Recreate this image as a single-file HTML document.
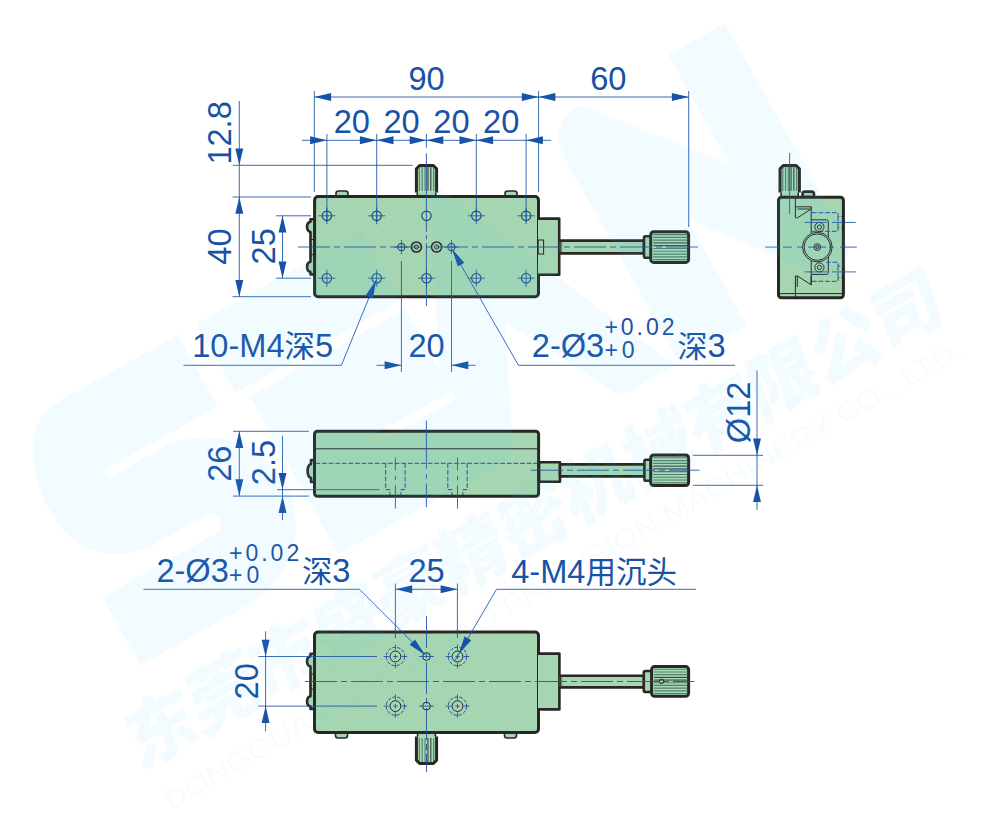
<!DOCTYPE html>
<html lang="zh-CN">
<head>
<meta charset="utf-8">
<title>外形尺寸图</title>
<style>
html,body{margin:0;padding:0;background:#fff;}
body{width:1000px;height:838px;overflow:hidden;}
svg{display:block;}
text{font-family:"Liberation Sans", "Noto Sans CJK SC", sans-serif;fill:#1752a6;}
.b{stroke:#1752a6;stroke-width:0.85;fill:none;}
.ah{fill:#1752a6;stroke:none;}
.cl{stroke:#1752a6;stroke-width:0.85;fill:none;stroke-dasharray:32 4 6 4;}
.cl2{stroke:#1752a6;stroke-width:0.85;fill:none;stroke-dasharray:11 3 3 3;}
.h{stroke:#1e3f72;stroke-width:1.05;fill:none;}
.hd{stroke:#2a2624;stroke-width:1;fill:none;}
.hd2{stroke:#2a2624;stroke-width:1.5;fill:none;}
.body{fill:#a5d6b1;stroke:#2a2624;stroke-width:3;}
.part{fill:#a5d6b1;stroke:#2a2624;stroke-width:2.6;stroke-linejoin:round;}
.partl{fill:#a5d6b1;stroke:#2a2624;stroke-width:1.6;stroke-linejoin:round;}
.knob{fill:#a9dcba;stroke:#2a2624;stroke-width:3;stroke-linejoin:round;}
.knobf{fill:#a9dcba;stroke:none;}
.knobo{fill:none;stroke:#2a2624;stroke-width:3;stroke-linejoin:round;}
.kr{stroke:#557d66;stroke-width:1.15;fill:none;}
.krb{stroke:#1d1d1b;stroke-width:0.9;fill:none;}
.thin{stroke:#2a2624;stroke-width:1;fill:none;}
.thin2{stroke:#4b5a50;stroke-width:0.7;fill:none;}
.thinf{stroke:#2a2624;stroke-width:1;fill:#a5d6b1;}
.dash{stroke:#1752a6;stroke-width:1;fill:none;stroke-dasharray:4.7 1.9;}
.dashc{stroke:#1752a6;stroke-width:1;fill:none;stroke-dasharray:3.4 1.6;}
.wm{opacity:0.072;}
.wl{fill:#43c0f2;stroke:none;fill-rule:evenodd;}
.wt{fill:#43c0f2;}
.we{fill:#43c0f2;stroke:none;opacity:0.7;}
</style>
</head>
<body>
<svg width="1000" height="838" viewBox="0 0 1000 838">
<path class="part" d="M314.5 219.3 L310.5 219.3 L310.5 221.7 C305.9 222.5 305.9 230.9 310.5 231.9 L310.5 261.8 C305.9 262.8 305.9 271.2 310.5 272 L310.5 274.4 L314.5 274.4 Z"/>
<line class="thin" x1="310.5" y1="239.5" x2="314" y2="239.5"/>
<line class="thin" x1="310.5" y1="254.7" x2="314" y2="254.7"/>
<rect class="partl" x="417.3" y="189" width="18.4" height="9"/>
<path class="knobf" d="M416.4 192.4 L416.4 168.7 L419.6 165.5 L433.4 165.5 L436.6 168.7 L436.6 192.4 Z"/>
<line class="kr" x1="419.29" y1="167" x2="419.29" y2="190.9"/>
<line class="kr" x1="422.17" y1="167" x2="422.17" y2="190.9"/>
<line class="kr" x1="425.06" y1="167" x2="425.06" y2="190.9"/>
<line class="krb" x1="427.94" y1="167" x2="427.94" y2="190.9"/>
<line class="krb" x1="430.83" y1="167" x2="430.83" y2="190.9"/>
<line class="kr" x1="433.71" y1="167" x2="433.71" y2="190.9"/>
<path class="knobo" d="M416.4 192.4 L416.4 168.7 L419.6 165.5 L433.4 165.5 L436.6 168.7 L436.6 192.4"/>
<path class="partl" d="M336 197 L336 193.5 Q336 191 338.5 191 L345.5 191 Q348 191 348 193.5 L348 197 Z"/>
<path class="partl" d="M505 197 L505 193.5 Q505 191 507.5 191 L514.5 191 Q517 191 517 193.5 L517 197 Z"/>
<rect class="part" x="559.2" y="240.6" width="84.8" height="12.8"/>
<rect class="part" x="644" y="236.2" width="8" height="21.6" rx="1.5"/>
<rect class="knob" x="650.7" y="231.8" width="37.9" height="30.6" rx="3"/>
<line class="kr" x1="653.2" y1="234.58" x2="687.1" y2="234.58"/>
<line class="kr" x1="653.2" y1="237.36" x2="687.1" y2="237.36"/>
<line class="kr" x1="653.2" y1="240.15" x2="687.1" y2="240.15"/>
<line class="krb" x1="653.2" y1="242.93" x2="687.1" y2="242.93"/>
<line class="krb" x1="653.2" y1="245.71" x2="687.1" y2="245.71"/>
<line class="kr" x1="653.2" y1="248.49" x2="687.1" y2="248.49"/>
<line class="kr" x1="653.2" y1="251.27" x2="687.1" y2="251.27"/>
<line class="kr" x1="653.2" y1="254.05" x2="687.1" y2="254.05"/>
<line class="kr" x1="653.2" y1="256.84" x2="687.1" y2="256.84"/>
<line class="kr" x1="653.2" y1="259.62" x2="687.1" y2="259.62"/>
<rect class="body" x="314.6" y="196.5" width="223.9" height="100.3" rx="3.5"/>
<path class="part" d="M537 218.6 L559.2 218.6 L559.2 274.8 L537 274.8"/>
<line class="thin" x1="537.5" y1="219.5" x2="537.5" y2="274"/>
<rect class="thin" x="538.2" y="240" width="5.4" height="14"/>
<path class="thin2" d="M559.4 241.8 V252.4 M561.6 241.8 V252.4"/>
<circle class="h" cx="326.9" cy="215.8" r="4.7"/>
<line class="b" x1="318.4" y1="215.8" x2="335.4" y2="215.8"/>
<line class="b" x1="326.9" y1="207.3" x2="326.9" y2="224.3"/>
<circle class="h" cx="326.9" cy="278.2" r="4.7"/>
<line class="b" x1="318.4" y1="278.2" x2="335.4" y2="278.2"/>
<line class="b" x1="326.9" y1="269.7" x2="326.9" y2="286.7"/>
<circle class="h" cx="376.7" cy="215.8" r="4.7"/>
<line class="b" x1="368.2" y1="215.8" x2="385.2" y2="215.8"/>
<line class="b" x1="376.7" y1="207.3" x2="376.7" y2="224.3"/>
<circle class="h" cx="376.7" cy="278.2" r="4.7"/>
<line class="b" x1="368.2" y1="278.2" x2="385.2" y2="278.2"/>
<line class="b" x1="376.7" y1="269.7" x2="376.7" y2="286.7"/>
<circle class="h" cx="476.3" cy="215.8" r="4.7"/>
<line class="b" x1="467.8" y1="215.8" x2="484.8" y2="215.8"/>
<line class="b" x1="476.3" y1="207.3" x2="476.3" y2="224.3"/>
<circle class="h" cx="476.3" cy="278.2" r="4.7"/>
<line class="b" x1="467.8" y1="278.2" x2="484.8" y2="278.2"/>
<line class="b" x1="476.3" y1="269.7" x2="476.3" y2="286.7"/>
<circle class="h" cx="526.1" cy="215.8" r="4.7"/>
<line class="b" x1="517.6" y1="215.8" x2="534.6" y2="215.8"/>
<line class="b" x1="526.1" y1="207.3" x2="526.1" y2="224.3"/>
<circle class="h" cx="526.1" cy="278.2" r="4.7"/>
<line class="b" x1="517.6" y1="278.2" x2="534.6" y2="278.2"/>
<line class="b" x1="526.1" y1="269.7" x2="526.1" y2="286.7"/>
<circle class="h" cx="426.5" cy="215.8" r="4.7"/>
<circle class="h" cx="426.5" cy="278.2" r="4.7"/>
<line class="b" x1="418" y1="278.2" x2="435" y2="278.2"/>
<line class="b" x1="426.5" y1="269.7" x2="426.5" y2="286.7"/>
<circle class="h" cx="401.4" cy="247" r="3.6"/>
<line class="b" x1="394.2" y1="247" x2="408.6" y2="247"/>
<line class="b" x1="401.4" y1="239.8" x2="401.4" y2="254.2"/>
<circle class="h" cx="451.4" cy="247" r="3.6"/>
<line class="b" x1="444.2" y1="247" x2="458.6" y2="247"/>
<line class="b" x1="451.4" y1="239.8" x2="451.4" y2="254.2"/>
<circle class="hd2" cx="416.4" cy="247" r="5.1"/>
<circle class="hd" cx="416.4" cy="247" r="2.1"/>
<circle class="hd2" cx="436.6" cy="247" r="5.1"/>
<circle class="hd" cx="436.6" cy="247" r="2.1"/>
<line class="cl" x1="298" y1="247" x2="699.5" y2="247"/>
<path class="b" d="M426.4 134 V147.7 M426.4 153.3 V231.6 M426.4 235 V239.5 M426.4 243 V306"/>
<line class="b" x1="314.3" y1="91" x2="314.3" y2="192"/>
<line class="b" x1="538.6" y1="91" x2="538.6" y2="192"/>
<line class="b" x1="688.7" y1="91" x2="688.7" y2="227"/>
<line class="b" x1="314.3" y1="97" x2="688.7" y2="97"/>
<polygon class="ah" points="314.3,97 331.1,93.05 331.1,100.95"/>
<polygon class="ah" points="538.6,97 521.8,100.95 521.8,93.05"/>
<polygon class="ah" points="538.6,97 555.4,93.05 555.4,100.95"/>
<polygon class="ah" points="688.7,97 671.9,100.95 671.9,93.05"/>
<text x="426.5" y="89.6" font-size="32.6" text-anchor="middle">90</text>
<text x="608.3" y="89.6" font-size="32.6" text-anchor="middle">60</text>
<line class="b" x1="301.8" y1="140.3" x2="551.2" y2="140.3"/>
<line class="b" x1="326.9" y1="134" x2="326.9" y2="222"/>
<line class="b" x1="376.7" y1="134" x2="376.7" y2="222"/>
<line class="b" x1="476.3" y1="134" x2="476.3" y2="222"/>
<line class="b" x1="526.1" y1="134" x2="526.1" y2="222"/>
<polygon class="ah" points="326.9,140.3 310.1,144.25 310.1,136.35"/>
<polygon class="ah" points="526.1,140.3 542.9,136.35 542.9,144.25"/>
<polygon class="ah" points="376.7,140.3 359.9,144.25 359.9,136.35"/>
<text x="351.8" y="133.2" font-size="32.6" text-anchor="middle">20</text>
<polygon class="ah" points="376.7,140.3 393.5,136.35 393.5,144.25"/>
<polygon class="ah" points="426.5,140.3 409.7,144.25 409.7,136.35"/>
<text x="401.6" y="133.2" font-size="32.6" text-anchor="middle">20</text>
<polygon class="ah" points="426.5,140.3 443.3,136.35 443.3,144.25"/>
<polygon class="ah" points="476.3,140.3 459.5,144.25 459.5,136.35"/>
<text x="451.4" y="133.2" font-size="32.6" text-anchor="middle">20</text>
<polygon class="ah" points="476.3,140.3 493.1,136.35 493.1,144.25"/>
<text x="501.2" y="133.2" font-size="32.6" text-anchor="middle">20</text>
<line class="b" x1="233" y1="165.3" x2="412.5" y2="165.3"/>
<line class="b" x1="232.5" y1="197" x2="311" y2="197"/>
<line class="b" x1="232.5" y1="296.7" x2="311" y2="296.7"/>
<line class="b" x1="239.3" y1="101" x2="239.3" y2="296.7"/>
<polygon class="ah" points="239.3,165.3 235.35,148.5 243.25,148.5"/>
<polygon class="ah" points="239.3,197 243.25,213.8 235.35,213.8"/>
<polygon class="ah" points="239.3,296.7 235.35,279.9 243.25,279.9"/>
<text x="230.9" y="132.9" font-size="32.6" text-anchor="middle" transform="rotate(-90 230.9 132.9)">12.8</text>
<text x="231.2" y="246.6" font-size="32.6" text-anchor="middle" transform="rotate(-90 231.2 246.6)">40</text>
<line class="b" x1="276" y1="215.8" x2="311" y2="215.8"/>
<line class="b" x1="276" y1="278.2" x2="311" y2="278.2"/>
<line class="b" x1="282.5" y1="215.8" x2="282.5" y2="278.2"/>
<polygon class="ah" points="282.5,215.8 286.45,232.6 278.55,232.6"/>
<polygon class="ah" points="282.5,278.2 278.55,261.4 286.45,261.4"/>
<text x="275" y="246.3" font-size="32.6" text-anchor="middle" transform="rotate(-90 275 246.3)">25</text>
<line class="b" x1="183.5" y1="365.3" x2="341.4" y2="365.3"/>
<line class="b" x1="341.4" y1="365.3" x2="376" y2="280.5"/>
<polygon class="ah" points="376.3,279.8 373.02,297.9 365.98,295.03"/>
<text x="192.2" y="357.3" font-size="32.6" text-anchor="start">10-M4<tspan font-size="30.5">深</tspan>5</text>
<line class="b" x1="401.4" y1="261" x2="401.4" y2="372"/>
<line class="b" x1="451.5" y1="261" x2="451.5" y2="372"/>
<line class="b" x1="376.5" y1="365.3" x2="401.4" y2="365.3"/>
<line class="b" x1="451.5" y1="365.3" x2="475.5" y2="365.3"/>
<polygon class="ah" points="401.4,365.3 384.6,369.25 384.6,361.35"/>
<polygon class="ah" points="451.5,365.3 468.3,361.35 468.3,369.25"/>
<text x="426.5" y="357.3" font-size="32.6" text-anchor="middle">20</text>
<line class="b" x1="452.6" y1="250.5" x2="518.5" y2="365.3"/>
<line class="b" x1="518.5" y1="365.3" x2="735" y2="365.3"/>
<polygon class="ah" points="452.1,249 464.36,262.72 457.77,266.5"/>
<text x="531.8" y="357.3" font-size="32.6" text-anchor="start">2-Ø3</text>
<text x="604.4" y="335.4" font-size="23" text-anchor="start" letter-spacing="3">+0.02</text>
<text x="604.4" y="358.3" font-size="23" text-anchor="start" letter-spacing="4">+0</text>
<text x="677.6" y="357.3" font-size="32.6" text-anchor="start"><tspan font-size="30">深</tspan>3</text>
<rect class="partl" x="781.2" y="188.5" width="17" height="10"/>
<path class="knobf" d="M780 192.4 L780 168.8 L783.2 165.6 L796.2 165.6 L799.4 168.8 L799.4 192.4 Z"/>
<line class="kr" x1="782.77" y1="167.1" x2="782.77" y2="190.9"/>
<line class="kr" x1="785.54" y1="167.1" x2="785.54" y2="190.9"/>
<line class="kr" x1="788.31" y1="167.1" x2="788.31" y2="190.9"/>
<line class="krb" x1="791.09" y1="167.1" x2="791.09" y2="190.9"/>
<line class="krb" x1="793.86" y1="167.1" x2="793.86" y2="190.9"/>
<line class="kr" x1="796.63" y1="167.1" x2="796.63" y2="190.9"/>
<path class="knobo" d="M780 192.4 L780 168.8 L783.2 165.6 L796.2 165.6 L799.4 168.8 L799.4 192.4"/>
<path class="part" d="M802.5 197 L802.5 194 Q802.5 191.6 805 191.6 L811.5 191.6 Q814 191.6 814 194 L814 197 Z"/>
<rect class="body" x="778.5" y="197.2" width="64.9" height="100.6" rx="3"/>
<line class="thin" x1="795.4" y1="198" x2="795.4" y2="217.8"/>
<line class="thin" x1="795.4" y1="276" x2="795.4" y2="297"/>
<line class="thin" x1="780" y1="293.6" x2="842" y2="293.6"/>
<path class="thin" d="M795.5 206.8 L811.2 206.8 L811.2 209 L797.5 217.8 L795.5 217.8"/>
<path class="thin" d="M797.5 209 L810 209"/>
<path class="thin" d="M795.5 276 L797.5 276 L811.2 284.8 L811.2 276"/>
<line class="thin" x1="797.3" y1="276.5" x2="797.3" y2="287"/>
<line class="thin" x1="811.2" y1="206.8" x2="811.2" y2="284.8"/>
<path class="thin" d="M811.2 219.8 L826.5 219.8 Q828.3 219.8 828.3 221.6 L828.3 272.6 Q828.3 274.4 826.5 274.4 L811.2 274.4"/>
<path class="dash" d="M812 212.7 L838 212.7 L838 216.5 L842.5 216.5 M812 231.3 L838 231.3 L838 227.5 L842.5 227.5 M838 216.5 L838 227.5"/>
<path class="dash" d="M826 262.2 L838 262.2 L838 266 L842.5 266 M812 281.3 L838 281.3 L838 277.5 L842.5 277.5 M838 266 L838 277.5"/>
<circle class="thinf" cx="817.3" cy="247.1" r="14.8"/>
<circle class="thin" cx="817.3" cy="247.1" r="13.2"/>
<circle class="hd" cx="817.3" cy="247.1" r="3.4"/>
<circle class="hd" cx="817.3" cy="247.1" r="1.6"/>
<circle class="hd" cx="819.4" cy="227" r="4.6"/>
<circle class="hd" cx="819.4" cy="227" r="2.1"/>
<circle class="hd" cx="819.4" cy="267.4" r="4.6"/>
<circle class="hd" cx="819.4" cy="267.4" r="2.1"/>
<line class="b" x1="789.6" y1="153" x2="789.6" y2="214"/>
<line class="b" x1="765.3" y1="247.1" x2="779" y2="247.1"/>
<line class="b" x1="783" y1="247.1" x2="792" y2="247.1"/>
<line class="b" x1="797" y1="247.1" x2="803" y2="247.1"/>
<line class="b" x1="808" y1="247.1" x2="826" y2="247.1"/>
<line class="b" x1="829" y1="247.1" x2="834" y2="247.1"/>
<line class="b" x1="840" y1="247.1" x2="856.8" y2="247.1"/>
<line class="b" x1="804.5" y1="222.4" x2="827.4" y2="222.4"/>
<line class="b" x1="832" y1="222.4" x2="855.7" y2="222.4"/>
<line class="b" x1="804.5" y1="271.9" x2="827.4" y2="271.9"/>
<line class="b" x1="832" y1="271.9" x2="855.7" y2="271.9"/>
<path class="part" d="M314.5 460 L311 460 L311 464 Q307.6 465 307.6 471 Q307.6 477 311 478 L311 482 L314.5 482 Z"/>
<rect class="part" x="539" y="462.2" width="21" height="19.6"/>
<rect class="part" x="560" y="464.4" width="85" height="12"/>
<rect class="part" x="644.4" y="459.8" width="7.6" height="21" rx="1.5"/>
<rect class="knob" x="650.7" y="455" width="37.9" height="30.6" rx="3"/>
<line class="kr" x1="653.2" y1="457.78" x2="687.1" y2="457.78"/>
<line class="kr" x1="653.2" y1="460.56" x2="687.1" y2="460.56"/>
<line class="kr" x1="653.2" y1="463.35" x2="687.1" y2="463.35"/>
<line class="krb" x1="653.2" y1="466.13" x2="687.1" y2="466.13"/>
<line class="krb" x1="653.2" y1="468.91" x2="687.1" y2="468.91"/>
<line class="kr" x1="653.2" y1="471.69" x2="687.1" y2="471.69"/>
<line class="kr" x1="653.2" y1="474.47" x2="687.1" y2="474.47"/>
<line class="kr" x1="653.2" y1="477.25" x2="687.1" y2="477.25"/>
<line class="kr" x1="653.2" y1="480.04" x2="687.1" y2="480.04"/>
<line class="kr" x1="653.2" y1="482.82" x2="687.1" y2="482.82"/>
<rect class="body" x="314.5" y="431.3" width="224.1" height="65" rx="3"/>
<line class="thin" x1="315.5" y1="448.8" x2="538" y2="448.8"/>
<line class="dash" x1="315.5" y1="463.3" x2="538" y2="463.3"/>
<path class="dash" d="M385.7 463.3 L385.7 489.6 L389.9 489.6 L389.9 495 M405.09999999999997 463.3 L405.09999999999997 489.6 L400.9 489.6 L400.9 495"/>
<path class="b" d="M395.4 457.7 V470.5 M395.4 475.8 V480.2 M395.4 485.2 V508.6"/>
<path class="dash" d="M447.8 463.3 L447.8 489.6 L452.0 489.6 L452.0 495 M467.2 463.3 L467.2 489.6 L463.0 489.6 L463.0 495"/>
<path class="b" d="M457.5 457.7 V470.5 M457.5 475.8 V480.2 M457.5 485.2 V508.6"/>
<path class="b" d="M426.4 420.5 V468.7 M426.4 474.2 V478.6 M426.4 483.5 V507.2"/>
<line class="cl" x1="531" y1="470.2" x2="699.6" y2="470.2"/>
<line class="b" x1="233" y1="431.3" x2="308.8" y2="431.3"/>
<line class="b" x1="233" y1="496.1" x2="308.8" y2="496.1"/>
<line class="b" x1="239.3" y1="431.3" x2="239.3" y2="496.1"/>
<polygon class="ah" points="239.3,431.3 243.25,448.1 235.35,448.1"/>
<polygon class="ah" points="239.3,496.1 235.35,479.3 243.25,479.3"/>
<text x="231.3" y="463.7" font-size="32.6" text-anchor="middle" transform="rotate(-90 231.3 463.7)">26</text>
<line class="b" x1="277" y1="489.7" x2="379.5" y2="489.7"/>
<line class="b" x1="282.5" y1="435.8" x2="282.5" y2="520"/>
<polygon class="ah" points="282.5,489.7 278.55,472.9 286.45,472.9"/>
<polygon class="ah" points="282.5,496.1 286.45,512.9 278.55,512.9"/>
<text x="275.3" y="462.5" font-size="32.6" text-anchor="middle" transform="rotate(-90 275.3 462.5)">2.5</text>
<line class="b" x1="692.8" y1="455.3" x2="763" y2="455.3"/>
<line class="b" x1="692.8" y1="485.3" x2="763" y2="485.3"/>
<line class="b" x1="757" y1="370.3" x2="757" y2="510"/>
<polygon class="ah" points="757,455.3 753.05,438.5 760.95,438.5"/>
<polygon class="ah" points="757,485.3 760.95,502.1 753.05,502.1"/>
<text x="749.6" y="412.4" font-size="32.6" text-anchor="middle" transform="rotate(-90 749.6 412.4)">Ø12</text>
<path class="part" d="M314.5 653.8 L310.5 653.8 L310.5 656.2 C305.9 657 305.9 665.4 310.5 666.4 L310.5 696.3 C305.9 697.3 305.9 705.7 310.5 706.5 L310.5 708.9 L314.5 708.9 Z"/>
<line class="thin" x1="310.5" y1="674" x2="314" y2="674"/>
<line class="thin" x1="310.5" y1="689.2" x2="314" y2="689.2"/>
<rect class="partl" x="417.6" y="732" width="17.8" height="6"/>
<path class="knobf" d="M416.4 736.4 L416.4 760.3 L419.6 763.5 L433.4 763.5 L436.6 760.3 L436.6 736.4 Z"/>
<line class="kr" x1="419.29" y1="737.9" x2="419.29" y2="762"/>
<line class="kr" x1="422.17" y1="737.9" x2="422.17" y2="762"/>
<line class="kr" x1="425.06" y1="737.9" x2="425.06" y2="762"/>
<line class="krb" x1="427.94" y1="737.9" x2="427.94" y2="762"/>
<line class="krb" x1="430.83" y1="737.9" x2="430.83" y2="762"/>
<line class="kr" x1="433.71" y1="737.9" x2="433.71" y2="762"/>
<path class="knobo" d="M416.4 736.4 L416.4 760.3 L419.6 763.5 L433.4 763.5 L436.6 760.3 L436.6 736.4"/>
<path class="partl" d="M335.5 733 L335.5 735.5 Q335.5 738 338 738 L345 738 Q347.5 738 347.5 735.5 L347.5 733 Z"/>
<path class="partl" d="M504.5 733 L504.5 735.5 Q504.5 738 507 738 L514 738 Q516.5 738 516.5 735.5 L516.5 733 Z"/>
<rect class="part" x="559.4" y="675.8" width="84.6" height="11.6"/>
<rect class="part" x="643.8" y="671" width="8.2" height="21" rx="1.5"/>
<rect class="knob" x="651.6" y="666.6" width="37" height="29.6" rx="3"/>
<line class="kr" x1="654.1" y1="669.29" x2="687.1" y2="669.29"/>
<line class="kr" x1="654.1" y1="671.98" x2="687.1" y2="671.98"/>
<line class="kr" x1="654.1" y1="674.67" x2="687.1" y2="674.67"/>
<line class="krb" x1="654.1" y1="677.36" x2="687.1" y2="677.36"/>
<line class="krb" x1="654.1" y1="680.05" x2="687.1" y2="680.05"/>
<line class="kr" x1="654.1" y1="682.75" x2="687.1" y2="682.75"/>
<line class="kr" x1="654.1" y1="685.44" x2="687.1" y2="685.44"/>
<line class="kr" x1="654.1" y1="688.13" x2="687.1" y2="688.13"/>
<line class="kr" x1="654.1" y1="690.82" x2="687.1" y2="690.82"/>
<line class="kr" x1="654.1" y1="693.51" x2="687.1" y2="693.51"/>
<circle class="hd" cx="661.6" cy="681.3" r="2.2"/>
<rect class="body" x="314.5" y="632" width="224" height="100.4" rx="3.5"/>
<path class="part" d="M537 653.6 L559.4 653.6 L559.4 709.4 L537 709.4"/>
<line class="thin" x1="537.5" y1="654.5" x2="537.5" y2="708.5"/>
<path class="thin2" d="M559.6 677 V686.4 M561.8 677 V686.4"/>
<circle class="dashc" cx="395.4" cy="656.5" r="9.2"/>
<circle class="hd" cx="395.4" cy="656.5" r="5.4"/>
<line class="b" x1="393.2" y1="656.5" x2="397.6" y2="656.5"/>
<line class="b" x1="395.4" y1="654.3" x2="395.4" y2="658.7"/>
<line class="b" x1="401.6" y1="656.5" x2="407.2" y2="656.5"/>
<line class="b" x1="389.2" y1="656.5" x2="383.6" y2="656.5"/>
<line class="b" x1="395.4" y1="662.7" x2="395.4" y2="668.3"/>
<line class="b" x1="395.4" y1="650.3" x2="395.4" y2="644.7"/>
<circle class="dashc" cx="395.4" cy="706.1" r="9.2"/>
<circle class="hd" cx="395.4" cy="706.1" r="5.4"/>
<line class="b" x1="393.2" y1="706.1" x2="397.6" y2="706.1"/>
<line class="b" x1="395.4" y1="703.9" x2="395.4" y2="708.3"/>
<line class="b" x1="401.6" y1="706.1" x2="407.2" y2="706.1"/>
<line class="b" x1="389.2" y1="706.1" x2="383.6" y2="706.1"/>
<line class="b" x1="395.4" y1="712.3" x2="395.4" y2="717.9"/>
<line class="b" x1="395.4" y1="699.9" x2="395.4" y2="694.3"/>
<circle class="dashc" cx="457.5" cy="656.5" r="9.2"/>
<circle class="hd" cx="457.5" cy="656.5" r="5.4"/>
<line class="b" x1="455.3" y1="656.5" x2="459.7" y2="656.5"/>
<line class="b" x1="457.5" y1="654.3" x2="457.5" y2="658.7"/>
<line class="b" x1="463.7" y1="656.5" x2="469.3" y2="656.5"/>
<line class="b" x1="451.3" y1="656.5" x2="445.7" y2="656.5"/>
<line class="b" x1="457.5" y1="662.7" x2="457.5" y2="668.3"/>
<line class="b" x1="457.5" y1="650.3" x2="457.5" y2="644.7"/>
<circle class="dashc" cx="457.5" cy="706.1" r="9.2"/>
<circle class="hd" cx="457.5" cy="706.1" r="5.4"/>
<line class="b" x1="455.3" y1="706.1" x2="459.7" y2="706.1"/>
<line class="b" x1="457.5" y1="703.9" x2="457.5" y2="708.3"/>
<line class="b" x1="463.7" y1="706.1" x2="469.3" y2="706.1"/>
<line class="b" x1="451.3" y1="706.1" x2="445.7" y2="706.1"/>
<line class="b" x1="457.5" y1="712.3" x2="457.5" y2="717.9"/>
<line class="b" x1="457.5" y1="699.9" x2="457.5" y2="694.3"/>
<circle class="hd" cx="426.5" cy="656.5" r="3.9"/>
<line class="b" x1="419.1" y1="656.5" x2="433.9" y2="656.5"/>
<circle class="hd" cx="426.5" cy="706.1" r="3.9"/>
<line class="b" x1="419.1" y1="706.1" x2="433.9" y2="706.1"/>
<line class="cl" x1="305" y1="681.5" x2="694.5" y2="681.5"/>
<line class="cl" x1="426.5" y1="616" x2="426.5" y2="772"/>
<line class="b" x1="395.4" y1="583.5" x2="395.4" y2="638"/>
<line class="b" x1="457.4" y1="583.5" x2="457.4" y2="638"/>
<line class="b" x1="395.4" y1="589.3" x2="457.4" y2="589.3"/>
<polygon class="ah" points="395.4,589.3 412.2,585.35 412.2,593.25"/>
<polygon class="ah" points="457.4,589.3 440.6,593.25 440.6,585.35"/>
<text x="426.5" y="581.8" font-size="32.6" text-anchor="middle">25</text>
<line class="b" x1="258.3" y1="656.5" x2="377" y2="656.5"/>
<line class="b" x1="258.3" y1="706.1" x2="377" y2="706.1"/>
<line class="b" x1="265.6" y1="631.3" x2="265.6" y2="731.3"/>
<polygon class="ah" points="265.6,656.5 261.65,639.7 269.55,639.7"/>
<polygon class="ah" points="265.6,706.1 269.55,722.9 261.65,722.9"/>
<text x="257.6" y="681.3" font-size="32.6" text-anchor="middle" transform="rotate(-90 257.6 681.3)">20</text>
<line class="b" x1="143.5" y1="589.3" x2="359.5" y2="589.3"/>
<line class="b" x1="359.5" y1="589.3" x2="424.6" y2="654.4"/>
<polygon class="ah" points="425.4,655.2 409.63,644.81 415.01,639.43"/>
<text x="156.4" y="582.4" font-size="32.6" text-anchor="start">2-Ø3</text>
<text x="229" y="560.5" font-size="23" text-anchor="start" letter-spacing="3">+0.02</text>
<text x="229" y="583.4" font-size="23" text-anchor="start" letter-spacing="4">+0</text>
<text x="302.2" y="582.4" font-size="32.6" text-anchor="start"><tspan font-size="30">深</tspan>3</text>
<line class="b" x1="496.5" y1="589.3" x2="696" y2="589.3"/>
<line class="b" x1="496.5" y1="589.3" x2="454.6" y2="661.2"/>
<polygon class="ah" points="458.6,654.2 464.63,636.3 471.2,640.13"/>
<text x="511.2" y="582.6" font-size="32.6" text-anchor="start">4-M4<tspan font-size="30.5">用沉头</tspan></text>
<g class="wm" transform="rotate(-29.3)">
<path class="wl" d="M-150 379.0 L-9 379.0 L-9 461 L-135 461 A4.5 4.5 0 0 0 -135 470 L-80 470 C-30 470 12 510 12 560 C12 610 -30 649.0 -80 649.0 L-203 649.0 L-203 571 L-73 571 A10.5 10.5 0 0 0 -73 550 L-130 550 C-172 550 -206 519 -206 480 L-206 470 C-206 421 -181 379.0 -150 379.0 Z"/>
<path class="wl" d="M13 379.0 L202 379.0 L202 458 L13 458 Z"/>
<path class="wl" d="M24 468 L202 468 L202 562 L109 562 A4.5 4.5 0 0 0 109 571 L202 571 L202 649.0 L24 649.0 L24 468 Z"/>
<path class="wl" d="M202 538 L281 379.0 L291 379.0 L410 649.0 L347 649.0 L283 528 L224 649.0 L202 649.0 Z"/>
<path class="wl" d="M415 649.0 L415 418 Q415 376.0 455 376.0 L556 501 L556 375.0 L621 375.0 L621 612 Q621 649.0 586 649.0 L492 526 L492 649.0 Z"/>
<text class="wt" x="-256" y="740" font-size="72" font-weight="900" letter-spacing="-0.7" transform="translate(-256 739) skewX(-9) translate(256 -739)">东莞市盛豪精密机械有限公司</text>
<text class="we" x="-248" y="781.5" font-size="27" transform="rotate(-0.55 668 781.5)" textLength="916" lengthAdjust="spacingAndGlyphs">DONGGUAN SHENGHAO PRECISION MACHINERY CO., LTD.</text>
</g>
</svg>
</body>
</html>
